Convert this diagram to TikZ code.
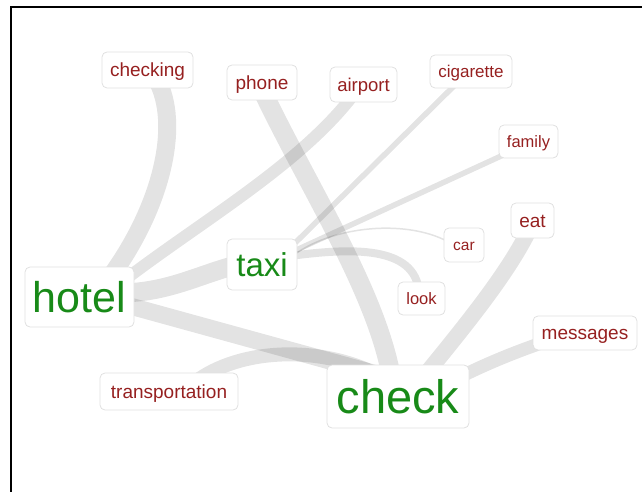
\documentclass[tikz,border=0pt]{standalone}
\usepackage{fontspec}
\setmainfont{Liberation Sans}
\usetikzlibrary{backgrounds}
\definecolor{termgreen}{RGB}{24,138,24}
\definecolor{termred}{RGB}{150,32,32}
\begin{document}
\begin{tikzpicture}[x=1pt,y=-1pt,
  box/.style={draw=black!12, fill=white, rounded corners=5pt, line width=0.8pt,
    inner sep=0pt, text depth=0pt, execute at begin node=\vphantom{h}},
  hub/.style={box, text=termgreen, font=\fontsize{#1}{#1}\selectfont},
  leaf/.style={box, text=termred, font=\fontsize{#1}{#1}\selectfont},
  link/.style={draw=black, draw opacity=0.11, line width=#1, line cap=butt},
  frame/.style={draw=black, line width=1.8pt}]
\useasboundingbox (0,0) rectangle (642,492);

% outer frame (left and top rules)
\coordinate (fl) at (11,492);
\coordinate (fc) at (11,7);
\coordinate (fr) at (642,7);
\draw[frame] (fl) -- (fc) -- (fr);

% central terms
\node[hub=43, minimum width=109, minimum height=60] (hotel) at (79.5,297) {hotel};
\node[hub=47, minimum width=142, minimum height=63] (check) at (398,396.5) {check};
\node[hub=33, minimum width=70, minimum height=51] (taxi) at (262,264.5) {taxi};

% related terms
\node[leaf=19, minimum width=91, minimum height=36] (checking) at (147.5,70) {checking};
\node[leaf=19, minimum width=70, minimum height=35] (phone) at (262,82.5) {phone};
\node[leaf=18.5, minimum width=67, minimum height=35] (airport) at (363.5,84.5) {airport};
\node[leaf=17, minimum width=82, minimum height=33] (cigarette) at (471,71.5) {cigarette};
\node[leaf=16.5, minimum width=59, minimum height=33] (family) at (528.5,141.5) {family};
\node[leaf=19, minimum width=43, minimum height=35] (eat) at (532.5,220.5) {eat};
\node[leaf=15.5, minimum width=40, minimum height=34] (car) at (464,245) {car};
\node[leaf=16.5, minimum width=47, minimum height=33] (look) at (421.5,298.5) {look};
\node[leaf=19, minimum width=104, minimum height=34] (messages) at (585,333) {messages};
\node[leaf=19, minimum width=138, minimum height=37] (transportation) at (169,391.5) {transportation};

% weighted links, drawn beneath the boxes
\begin{scope}[on background layer]
  \draw[link=18] ([shift={(28.5,-17)}]hotel.center) .. controls (160,210) and (180,130) .. ([shift={(11.5,14)}]checking.center);
  \draw[link=12] ([shift={(42.5,-15)}]hotel.center) .. controls (200,222) and (300,165) .. ([shift={(-9.5,9.5)}]airport.center);
  \draw[link=19] ([shift={(42.5,-4)}]hotel.center) .. controls (170,292) and (200,274) .. ([shift={(-22,-0.5)}]taxi.center);
  \draw[link=17] ([shift={(42.5,6.8)}]hotel.center) -- ([shift={(-23,-23)}]check.center);
  \draw[link=14] ([shift={(26,-9.5)}]transportation.center) .. controls (240,348) and (320,345) .. ([shift={(-20,-21.5)}]check.center);
  \draw[link=19] ([shift={(1,9.5)}]phone.center) .. controls (310,190) and (375,290) .. ([shift={(-7,-21.5)}]check.center);
  \draw[link=16] ([shift={(27,-21.5)}]check.center) .. controls (470,320) and (510,270) .. ([shift={(-2.5,7.5)}]eat.center);
  \draw[link=13] ([shift={(52,-14.5)}]check.center) .. controls (485,364) and (515,352) .. ([shift={(-35,7)}]messages.center);
  \draw[link=5.5] ([shift={(28,-16.5)}]taxi.center) -- ([shift={(-13,10.5)}]cigarette.center);
  \draw[link=5.5] ([shift={(30,-12.5)}]taxi.center) -- ([shift={(-16.5,9.5)}]family.center);
  \draw[link=1.5] ([shift={(28,-6.5)}]taxi.center) .. controls (330,225) and (410,218) .. ([shift={(-12,-1)}]car.center);
  \draw[link=8] ([shift={(28,-8.5)}]taxi.center) .. controls (350,248) and (415,245) .. ([shift={(-2.5,-6.5)}]look.center);
\end{scope}
\end{tikzpicture}
\end{document}
